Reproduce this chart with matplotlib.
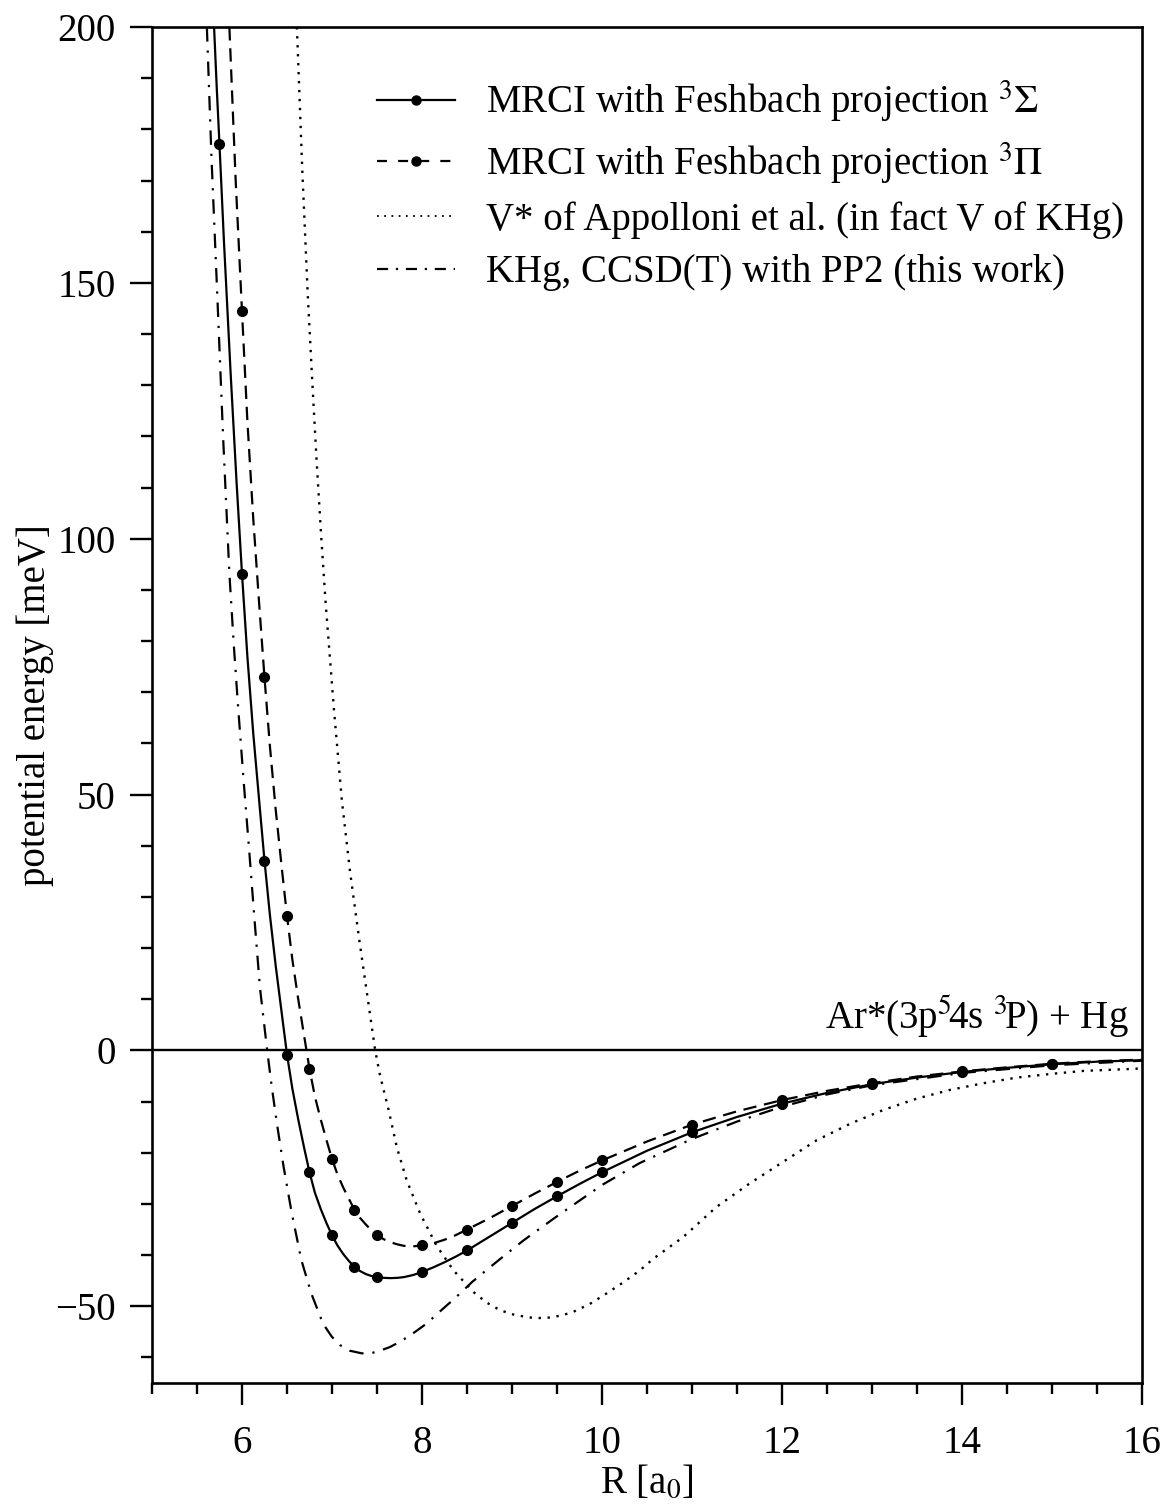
import matplotlib
matplotlib.use("Agg")
import matplotlib.pyplot as plt
from matplotlib.ticker import MultipleLocator

plt.rcParams['font.family'] = ['Liberation Serif', 'DejaVu Serif']
plt.rcParams['mathtext.fontset'] = 'stix'
plt.rcParams['axes.unicode_minus'] = True

# MRCI 3Sigma: computed points and curve
sig_r = [5.75, 6.0, 6.25, 6.5, 6.75, 7.0, 7.25, 7.5, 8.0, 8.5, 9.0, 9.5, 10.0,
         11.0, 12.0, 13.0, 14.0, 15.0]
sig_e = [177.1, 93.2, 37.1, -0.8, -23.8, -36.1, -42.3, -44.3, -43.3, -39.1,
         -33.7, -28.5, -23.8, -16.0, -10.4, -6.6, -4.2, -2.7]
sig_curve_r = [5.69, 5.72, 5.75, 5.80, 5.875, 5.94, 6.0, 6.06, 6.125, 6.19,
               6.25, 6.31, 6.375, 6.44, 6.5, 6.56, 6.625, 6.69, 6.75, 6.81,
               6.875, 6.94, 7.0, 7.06, 7.125, 7.19, 7.25, 7.31, 7.375, 7.44,
               7.5, 7.575, 7.65, 7.725, 7.8, 7.9, 8.0, 8.125, 8.25, 8.375,
               8.5, 8.75, 9.0, 9.25, 9.5, 9.75, 10.0, 10.5, 11.0, 11.5, 12.0,
               12.5, 13.0, 13.5, 14.0, 14.5, 15.0, 15.5, 16.0]
sig_curve_e = [200, 188, 177.1, 158, 132, 111, 93.2, 77, 62, 49, 37.1, 26.5,
               16.5, 7.5, -0.8, -7.5, -13.5, -19.0, -23.8, -27.8, -31.0,
               -33.8, -36.1, -38.1, -39.8, -41.2, -42.3, -43.1, -43.7, -44.1,
               -44.3, -44.45, -44.5, -44.45, -44.3, -43.9, -43.3, -42.4,
               -41.4, -40.3, -39.1, -36.4, -33.7, -31.0, -28.5, -26.1, -23.8,
               -19.6, -16.0, -13.0, -10.4, -8.3, -6.6, -5.3, -4.2, -3.4,
               -2.7, -2.2, -1.9]

# MRCI 3Pi: computed points and curve
pi_r = [6.0, 6.25, 6.5, 6.75, 7.0, 7.25, 7.5, 8.0, 8.5, 9.0, 9.5, 10.0, 11.0,
        12.0, 13.0, 14.0, 15.0]
pi_e = [144.5, 72.9, 26.3, -3.6, -21.2, -31.1, -36.1, -38.1, -35.0, -30.4,
        -25.7, -21.5, -14.5, -9.7, -6.4, -4.1, -2.6]
pi_curve_r = [5.86, 5.93, 6.0, 6.06, 6.125, 6.19, 6.25, 6.31, 6.375, 6.44,
              6.5, 6.56, 6.625, 6.69, 6.75, 6.81, 6.875, 6.94, 7.0, 7.06,
              7.125, 7.19, 7.25, 7.31, 7.375, 7.44, 7.5, 7.575, 7.65, 7.725,
              7.8, 7.9, 8.0, 8.125, 8.25, 8.375, 8.5, 8.75, 9.0, 9.25, 9.5,
              9.75, 10.0, 10.5, 11.0, 11.5, 12.0, 12.5, 13.0, 13.5, 14.0,
              14.5, 15.0, 15.5, 16.0]
pi_curve_e = [200, 170, 144.5, 123, 104, 87.5, 72.9, 59.5, 47, 36, 26.3, 17.7,
              10, 2.9, -3.6, -9.0, -13.5, -17.6, -21.2, -24.2, -26.8, -29.1,
              -31.1, -32.7, -34.0, -35.2, -36.1, -36.9, -37.5, -37.9, -38.2,
              -38.3, -38.1, -37.7, -37.0, -36.1, -35.0, -32.8, -30.4, -28.0,
              -25.7, -23.5, -21.5, -17.8, -14.5, -11.9, -9.7, -7.9, -6.4,
              -5.1, -4.1, -3.3, -2.6, -2.1, -1.8]

# V* of Appolloni et al.
app_r = [6.61, 6.67, 6.73, 6.78, 6.83, 6.88, 6.93, 7.02, 7.11, 7.2, 7.3, 7.39,
         7.48, 7.53, 7.63, 7.72, 7.83, 7.98, 8.16, 8.35, 8.57, 8.72, 8.87,
         9.03, 9.2, 9.31, 9.42, 9.55, 9.68, 9.86, 10.05, 10.23, 10.42, 10.57,
         10.9, 11.27, 11.64, 12.01, 12.38, 12.76, 13.13, 13.5, 13.87, 14.24,
         14.61, 14.98, 15.35, 15.9, 16.0]
app_e = [200, 172, 148, 131, 115, 100.5, 87.3, 67, 48.8, 35, 22, 11, 0, -4.6,
         -11.7, -18.9, -25.4, -31.9, -38.1, -43.0, -47.2, -49.3, -50.8,
         -51.7, -52.2, -52.3, -52.2, -51.8, -51.1, -49.6, -47.5, -45.4, -43.0,
         -40.7, -36.5, -30.6, -26.0, -21.8, -17.6, -14.3, -11.6, -9.4, -7.7,
         -6.4, -5.3, -4.6, -4.0, -3.6, -3.5]

# KHg, CCSD(T) with PP2
khg_r = [5.61, 5.66, 5.72, 5.79, 5.86, 5.91, 5.96, 6.02, 6.08, 6.14, 6.2, 6.28,
         6.33, 6.39, 6.46, 6.55, 6.66, 6.77, 6.90, 7.0, 7.09, 7.2, 7.33, 7.43,
         7.53, 7.64, 7.76, 7.9, 8.05, 8.2, 8.38, 8.56, 8.76, 8.95, 9.13, 9.5,
         10.0, 10.42, 11.0, 11.5, 12.0, 12.5, 13.0, 14.0, 15.0, 16.0]
khg_e = [200, 175, 150, 120, 93.2, 79, 66.4, 52.3, 39.1, 25.4, 12.2, 0, -7.0,
         -14.5, -22.5, -31.5, -41.0, -47.5, -53.4, -56.0, -57.6, -58.7, -59.2,
         -59.2, -58.7, -58.0, -56.9, -55.3, -53.4, -51.0, -48.2, -45.2, -42.3,
         -39.6, -37.1, -32.4, -26.3, -22.0, -17.3, -13.9, -11.0, -8.6, -6.8,
         -4.4, -2.9, -2.0]

labels = [r'MRCI with Feshbach projection $^3\Sigma$',
          r'MRCI with Feshbach projection $^3\Pi$',
          'V* of Appolloni et al. (in fact V of KHg)',
          'KHg, CCSD(T) with PP2 (this work)']

fs = 28
fig = plt.figure(figsize=(11.69, 15.09), dpi=100)
ax = fig.add_axes([0.130, 0.0835, 0.847, 0.8985])

lw = 1.6
ax.axhline(0, color='black', lw=1.7, zorder=1)
ax.plot(sig_curve_r, sig_curve_e, color='black', lw=lw, ls='-')
ax.plot(sig_r, sig_e, 'o', color='black', ms=7)
ax.plot(pi_curve_r, pi_curve_e, color='black', lw=lw, ls=(0, (6, 3.5)))
ax.plot(pi_r, pi_e, 'o', color='black', ms=7)
ax.plot(app_r, app_e, color='black', lw=1.7, ls=(0, (1, 2.8)))
ax.plot(khg_r, khg_e, color='black', lw=lw, ls=(0, (6.5, 4, 1, 4)))

# legend handles
h1, = ax.plot([], [], color='black', lw=lw, ls='-', marker='o', ms=6.5)
h2, = ax.plot([], [], color='black', lw=lw, ls=(0, (4.5, 5)), marker='o', ms=6.5)
h3, = ax.plot([], [], color='black', lw=1.3, ls=(0, (1, 3)))
h4, = ax.plot([], [], color='black', lw=lw, ls=(0, (5, 3.5, 1, 3.5)))
ax.legend([h1, h2, h3, h4], labels, loc='upper left',
          bbox_to_anchor=(0.227, 0.962), frameon=False, fontsize=fs,
          handlelength=2.0, handletextpad=0.82, labelspacing=0.4,
          borderpad=0, borderaxespad=0, numpoints=1)

ax.text(15.85, 4.3, r'Ar*(3p$^5\!$4s $^3\!$P) + Hg', fontsize=fs,
        ha='right', va='baseline')

ax.set_xlim(5, 16)
ax.set_ylim(-65, 200)
ax.xaxis.set_major_locator(MultipleLocator(2))
ax.xaxis.set_minor_locator(MultipleLocator(0.5))
ax.yaxis.set_major_locator(MultipleLocator(50))
ax.yaxis.set_minor_locator(MultipleLocator(10))
ax.tick_params(which='both', direction='out', top=False, right=False,
               labelsize=fs, width=1.7)
ax.tick_params(which='major', length=16, pad=10)
ax.tick_params(axis='x', which='major', pad=14)
ax.tick_params(which='minor', length=8)
for s in ax.spines.values():
    s.set_linewidth(1.9)

ax.set_xlabel(r'R [a$_0$]', fontsize=fs, labelpad=2)
ax.set_ylabel('potential energy [meV]', fontsize=fs, labelpad=1)

fig.savefig('out.png', dpi=100)
